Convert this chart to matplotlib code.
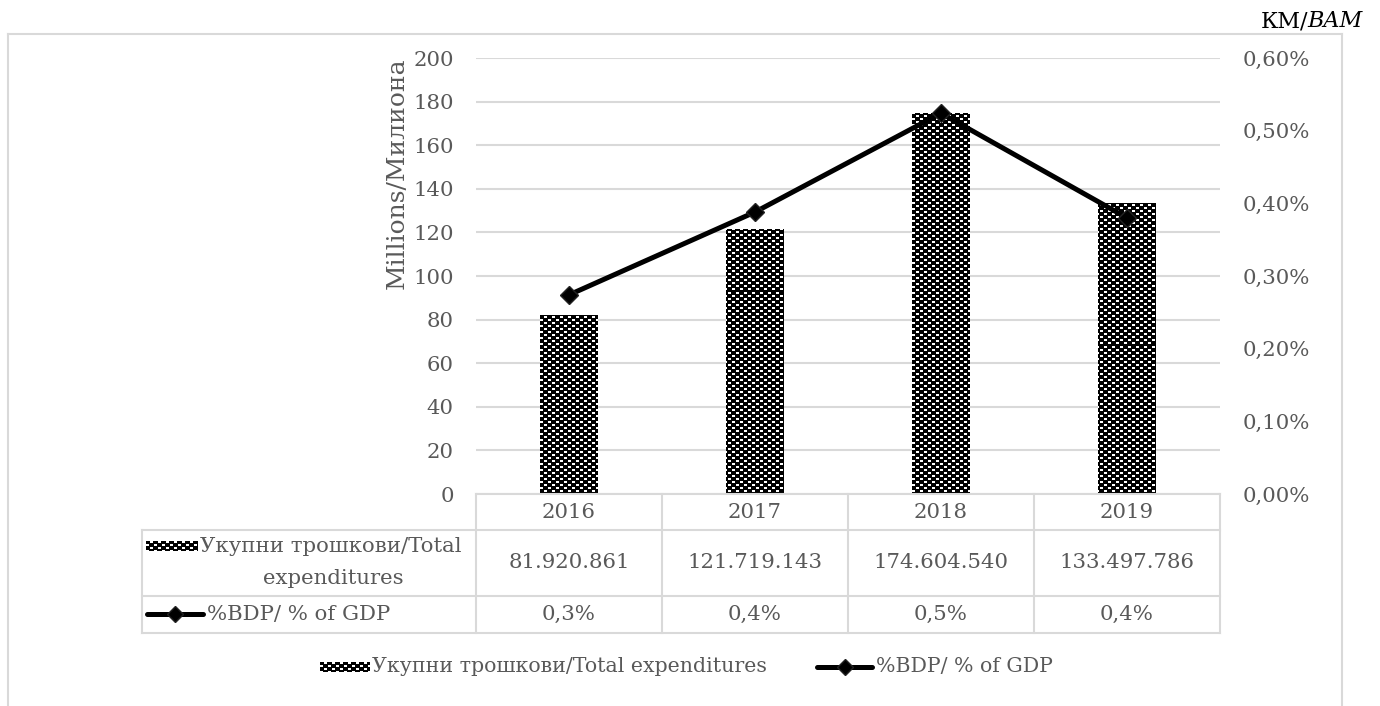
import numpy as np
import matplotlib
matplotlib.use("Agg")
import matplotlib.pyplot as plt
from matplotlib.lines import Line2D

# ---------------- data ----------------
years = ["2016", "2017", "2018", "2019"]
expenditures = [81920861, 121719143, 174604540, 133497786]   # KM
pct_gdp = [0.274, 0.388, 0.524, 0.380]                        # % of GDP
left_ticks = [0, 20, 40, 60, 80, 100, 120, 140, 160, 180, 200]
right_ticks = [0.0, 0.1, 0.2, 0.3, 0.4, 0.5, 0.6]
bar_label = "Укупни трошкови/Total expenditures"
bar_label_table = "Укупни трошкови/Total"
line_label = "%BDP/ % of GDP"
ylabel = "Millions/Милиона"

W, H = 1380, 706
plt.rcParams['font.family'] = ['DejaVu Serif', 'DejaVu Sans']
GRAY = "#595959"
GRID = "#d9d9d9"
FS = 15.3

fig = plt.figure(figsize=(W / 100, H / 100), dpi=100)
fig.patch.set_facecolor("white")

def fx(x):
    return x / W

def fy(y):
    return 1 - y / H

def make_pattern(h, w):
    r_, c_ = np.mgrid[0:h, 0:w]
    white = (((c_ // 4) + (r_ // 3)) % 2 == 1) & (r_ % 3 != 2) & (c_ % 4 != 3)
    return white.astype(float)

# plot area in pixels
L, R, T, B = 476, 1220, 58, 494
ax = fig.add_axes([fx(L), fy(B), (R - L) / W, (B - T) / H])
ax2 = ax.twinx()

pattern = make_pattern(B - T, R - L)

x = np.arange(len(years))
vals_m = [v / 1e6 for v in expenditures]
bars = ax.bar(x, vals_m, width=0.31, facecolor="none", edgecolor="none", zorder=2)
for b in bars:
    im = ax.imshow(pattern, extent=[-0.5, 3.5, 0, 200], aspect="auto",
                   interpolation="nearest", cmap="gray", vmin=0, vmax=1, zorder=2)
    im.set_clip_path(b)

ax.set_xlim(-0.5, 3.5)
ax.set_ylim(0, 200)
ax.set_yticks(left_ticks)
ax.set_yticklabels([str(t) for t in left_ticks])
ax.set_xticks([])
ax.yaxis.grid(True, color=GRID, lw=1.5, zorder=0)
ax.set_axisbelow(True)
ax.tick_params(axis="y", length=0, pad=16, labelsize=FS, labelcolor=GRAY)

ax2.plot(x, pct_gdp, color="black", lw=3.6, marker="D", markersize=9,
         markerfacecolor="black", markeredgecolor="#222222", zorder=3)
ax2.set_ylim(0, 0.6)
ax2.set_yticks(right_ticks)
ax2.set_yticklabels([f"{t:.2f}%".replace(".", ",") for t in right_ticks])
ax2.tick_params(axis="y", length=0, pad=16, labelsize=FS, labelcolor=GRAY)

for a in (ax, ax2):
    for s in a.spines.values():
        s.set_visible(False)

# y label
fig.text(fx(397), fy(173), ylabel, rotation=90, ha="center", va="center",
         fontsize=18, color=GRAY)

# units label top right
fig.text(fx(1308), fy(27), "КМ/", ha="right", va="baseline", fontsize=16, color="black")
fig.text(fx(1307), fy(27), "BAM", ha="left", va="baseline", fontsize=16,
         color="black", style="italic")

# outer frame
def hline(y, x0, x1, color=GRID, lw=1.5):
    fig.add_artist(Line2D([fx(x0), fx(x1)], [fy(y), fy(y)], color=color, lw=lw))

def vline(xp, y0, y1, color=GRID, lw=1.5):
    fig.add_artist(Line2D([fx(xp), fx(xp)], [fy(y0), fy(y1)], color=color, lw=lw))

hline(34, 8, 1342)
vline(8, 34, 706)
vline(1342, 34, 706)

# data table
col_w = (R - L) / len(years)
col_edges = [L + i * col_w for i in range(len(years) + 1)]
hline(494, L, R)
for yv in (530, 596, 633):
    hline(yv, 142, R)
for xe in col_edges:
    vline(xe, 494, 633)
vline(142, 530, 633)

for i, yr in enumerate(years):
    cx = L + (i + 0.5) * col_w
    fig.text(fx(cx), fy(512), yr, ha="center", va="center", fontsize=FS, color=GRAY)
    fig.text(fx(cx), fy(563), f"{expenditures[i]:,}".replace(",", "."),
             ha="center", va="center", fontsize=FS, color=GRAY)
    fig.text(fx(cx), fy(614), f"{pct_gdp[i]:.1f}%".replace(".", ","),
             ha="center", va="center", fontsize=FS, color=GRAY)

# swatches
def swatch(x0, y0, w, h):
    p = make_pattern(h, w)
    rgb = np.repeat(p[:, :, None], 3, axis=2)
    fig.figimage(rgb, xo=x0, yo=H - y0 - h, origin="upper", zorder=5)

def line_handle(x0, x1, y):
    fig.add_artist(Line2D([fx(x0), fx(x1)], [fy(y), fy(y)], color="black",
                          lw=3.6, solid_capstyle="round"))
    fig.add_artist(Line2D([fx((x0 + x1) / 2)], [fy(y)], marker="D", markersize=8,
                          color="black", markeredgecolor="#222222"))

swatch(146, 541, 52, 10)
fig.text(fx(200), fy(546), bar_label_table, ha="left", va="center", fontsize=FS, color=GRAY)
fig.text(fx(333), fy(579), "expenditures", ha="center", va="center", fontsize=FS, color=GRAY)
line_handle(147, 203, 614)
fig.text(fx(207), fy(614), line_label, ha="left", va="center", fontsize=FS, color=GRAY)

# legend
swatch(320, 662, 50, 10)
fig.text(fx(372), fy(667), bar_label, ha="left", va="center", fontsize=14.8, color=GRAY)
line_handle(817, 872, 667)
fig.text(fx(876), fy(667), line_label, ha="left", va="center", fontsize=14.8, color=GRAY)

fig.savefig("out.png", dpi=100, facecolor="white")
